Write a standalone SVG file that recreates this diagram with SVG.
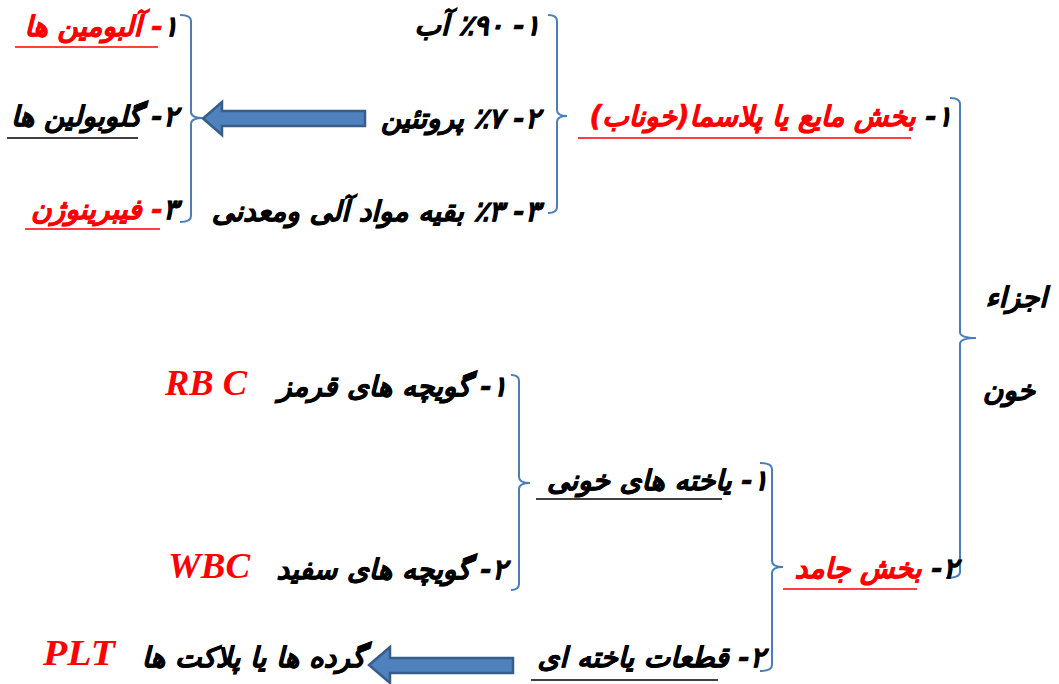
<svg xmlns="http://www.w3.org/2000/svg" width="1059" height="684" viewBox="0 0 1059 684">
<style>
.fa{font-family:"DejaVu Sans",sans-serif;font-weight:bold;font-style:italic;font-size:28px;fill:#000;stroke:#000;stroke-width:0.6;direction:rtl;unicode-bidi:embed;text-anchor:start}
.red{fill:#FF0000;stroke:#FF0000}
.lat{font-family:"Liberation Serif",serif;font-weight:bold;font-style:italic;font-size:35px;fill:#FF0000}
.br{fill:none;stroke:#4A7EBB;stroke-width:2}
.ar{fill:#4F81BD;stroke:#385D8A;stroke-width:2.5}
.ul{stroke-width:1.5}
</style>
<rect width="1059" height="684" fill="#fff"/>
<g id="connectors">
<path class="br" d="M180,15 Q191,15 191,21 V112 Q191,118 203,118 Q191,118 191,124 V216 Q191,222 180,222"/>
<path class="br" d="M548,15 Q557,15 557,21 V110 Q557,116 567,116 Q557,116 557,122 V207 Q557,213 548,213"/>
<path class="br" d="M950,98 Q960,98 960,104 V332 Q960,338 976,338 Q960,338 960,344 V572 Q960,578 946,578"/>
<path class="br" d="M511,375 Q519,375 519,381 V477 Q519,483 530,483 Q519,483 519,489 V584 Q519,590 511,590"/>
<path class="br" d="M760,463 Q772,463 772,469 V561 Q772,567 783,567 Q772,567 772,573 V665 Q772,671 760,671"/>
<polygon class="ar" points="365,111 222,111 222,102 203,118.5 222,135 222,126 365,126"/>
<polygon class="ar" points="513,658 390,658 390,647 369,665 390,683 390,673 513,673"/>
</g>
<g id="root">
<text class="fa" x="1047" y="307">اجزاء</text>
<text class="fa" x="1035" y="400">خون</text>
</g>
<g id="plasma">
<text class="fa" x="952" y="126">۱- <tspan class="red">بخش مایع یا  پلاسما(خوناب)</tspan></text>
<line class="ul" x1="578" y1="138" x2="911" y2="138" stroke="#FF0000"/>
</g>
<g id="water"><text class="fa" x="540" y="35">۱-  ۹۰&#x200F;٪ آب</text></g>
<g id="protein"><text class="fa" x="540" y="128">۲- ۷&#x200F;٪ پروتئین</text></g>
<g id="other"><text class="fa" x="540" y="221">۳- ۳&#x200F;٪ بقیه مواد آلی ومعدنی</text></g>
<g id="albumin">
<text class="fa" x="178" y="36">۱<tspan class="red">- آلبومین ها</tspan></text>
<line class="ul" x1="15" y1="47" x2="158" y2="47" stroke="#FF0000"/>
</g>
<g id="globulin">
<text class="fa" x="178" y="126">۲- گلوبولین ها</text>
<line class="ul" x1="7" y1="138" x2="138" y2="138" stroke="#000"/>
</g>
<g id="fibrinogen">
<text class="fa" x="178" y="219">۳<tspan class="red">- فیبرینوژن</tspan></text>
<line class="ul" x1="25" y1="229" x2="160" y2="229" stroke="#FF0000"/>
</g>
<g id="solid">
<text class="fa" x="958" y="578">۲- <tspan class="red">بخش جامد</tspan></text>
<line class="ul" x1="783" y1="589" x2="917" y2="589" stroke="#FF0000"/>
</g>
<g id="cells">
<text class="fa" x="768" y="490">۱- یاخته های خونی</text>
<line class="ul" x1="536" y1="499" x2="722" y2="499" stroke="#000"/>
</g>
<g id="fragments">
<text class="fa" x="765" y="667">۲- قطعات یاخته ای</text>
<line class="ul" x1="531" y1="680" x2="718" y2="680" stroke="#000"/>
</g>
<g id="rbc">
<text class="fa" x="507" y="396">۱- گویچه های قرمز</text>
<text class="lat" x="165" y="395" textLength="82" lengthAdjust="spacingAndGlyphs">RB C</text>
</g>
<g id="wbc">
<text class="fa" x="507" y="579">۲- گویچه های سفید</text>
<text class="lat" x="168" y="578" textLength="82" lengthAdjust="spacingAndGlyphs">WBC</text>
</g>
<g id="platelets">
<text class="fa" x="365" y="667">گرده ها یا پلاکت ها</text>
<text class="lat" x="43" y="665" textLength="72" lengthAdjust="spacingAndGlyphs">PLT</text>
</g>
</svg>
